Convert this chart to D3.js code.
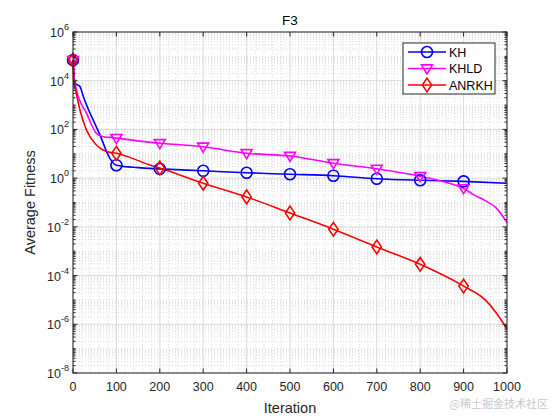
<!DOCTYPE html>
<html>
<head>
<meta charset="utf-8">
<script src="https://cdn.jsdelivr.net/npm/d3@7"></script>
<style>
  body { margin: 0; background: #fff; }
  svg { font-family: "Liberation Sans", Arial, sans-serif; }
</style>
</head>
<body>
<div id="chart"></div>
<script>
// data
const khIter = [0, 5, 16, 24, 62, 85, 100, 150, 200, 300, 400, 500, 600, 700, 800, 900, 1000];
const khVal = [7e4, 7.8e3, 5.8e3, 2.2e3, 60, 6.5, 3.4, 2.7, 2.4, 2.0, 1.66, 1.45, 1.26, 0.95, 0.82, 0.74, 0.62];

const khldIter = [0, 3, 8, 31, 54, 70, 85, 100, 150, 200, 300, 400, 500, 600, 700, 800, 850, 900, 925, 950, 975, 1000];
const khldVal = [7e4, 1.2e4, 4.2e3, 470, 69, 50, 47, 44, 34, 27, 19.5, 10.5, 8.1, 4.1, 2.4, 1.2, 0.75, 0.38, 0.2, 0.12, 0.06, 0.015];

const anrkhIter = [0, 2, 5, 16, 31, 54, 77, 100, 177, 200, 300, 400, 500, 600, 700, 800, 900, 950, 975, 1000];
const anrkhVal = [7e4, 8e3, 4.9e3, 630, 95, 23, 12.3, 10.5, 3.5, 2.6, 0.62, 0.17, 0.037, 0.008, 0.0015, 2.9e-4, 3.7e-5, 1e-5, 3e-6, 6.5e-7];

const markerIter = [0, 100, 200, 300, 400, 500, 600, 700, 800, 900];
const xTicks = [0, 100, 200, 300, 400, 500, 600, 700, 800, 900, 1000];
const yExps = [-8, -6, -4, -2, 0, 2, 4, 6];
const seriesNames = ['KH', 'KHLD', 'ANRKH'];
const seriesColors = ['#0000ff', '#ff00ff', '#ff0000'];
const seriesShapes = ['circle', 'triangle', 'diamond'];

const W = 560, H = 420;
const pLeft = 73, pRight = 507, pTop = 32, pBottom = 373;

const svg = d3.select('#chart').append('svg')
  .attr('width', W).attr('height', H);

const x = d3.scaleLinear().domain([0, 1000]).range([pLeft, pRight]);
const y = d3.scaleLog().domain([1e-8, 1e6]).range([pBottom, pTop]);

// grid
const grid = svg.append('g');
const minorY = [];
for (let e = -8; e < 6; e++) {
  for (let m = 1; m <= 9; m++) {
    const v = m * Math.pow(10, e);
    if (m === 1 && e % 2 === 0) continue;
    minorY.push(v);
  }
}
grid.selectAll('.my').data(minorY).enter().append('line')
  .attr('x1', pLeft).attr('x2', pRight)
  .attr('y1', d => y(d)).attr('y2', d => y(d))
  .attr('stroke', '#d4d4d4').attr('stroke-width', 0.8)
  .attr('stroke-dasharray', '1,2');
const minorX = d3.range(20, 1000, 20).filter(v => v % 100 !== 0);
grid.selectAll('.mx').data(minorX).enter().append('line')
  .attr('y1', pTop).attr('y2', pBottom)
  .attr('x1', d => x(d)).attr('x2', d => x(d))
  .attr('stroke', '#d4d4d4').attr('stroke-width', 0.8)
  .attr('stroke-dasharray', '1,2');
grid.selectAll('.gy').data(yExps).enter().append('line')
  .attr('x1', pLeft).attr('x2', pRight)
  .attr('y1', d => y(Math.pow(10, d))).attr('y2', d => y(Math.pow(10, d)))
  .attr('stroke', '#dadada').attr('stroke-width', 1);
grid.selectAll('.gx').data(xTicks).enter().append('line')
  .attr('y1', pTop).attr('y2', pBottom)
  .attr('x1', d => x(d)).attr('x2', d => x(d))
  .attr('stroke', '#dadada').attr('stroke-width', 1);

// lines
const series = [
  { iter: khIter, val: khVal },
  { iter: khldIter, val: khldVal },
  { iter: anrkhIter, val: anrkhVal }
];
const line = d3.line().x(d => x(d[0])).y(d => y(d[1])).curve(d3.curveMonotoneX);

function shapePath(shape, s) {
  if (shape === 'circle') {
    return d3.symbol().type(d3.symbolCircle).size(Math.PI * s * s)();
  }
  if (shape === 'triangle') {
    const h = s * 1.1;
    return `M${-s},${-h * 0.6}L${s},${-h * 0.6}L0,${h * 0.9}Z`;
  }
  return `M0,${-s * 1.25}L${s * 0.85},0L0,${s * 1.25}L${-s * 0.85},0Z`;
}

function interpLog(iter, val, t) {
  for (let i = 0; i < iter.length - 1; i++) {
    if (t >= iter[i] && t <= iter[i + 1]) {
      const f = (t - iter[i]) / (iter[i + 1] - iter[i]);
      return Math.pow(10, Math.log10(val[i]) + f * (Math.log10(val[i + 1]) - Math.log10(val[i])));
    }
  }
  return val[val.length - 1];
}

series.forEach((s, i) => {
  const pts = s.iter.map((t, k) => [t, s.val[k]]);
  svg.append('path').datum(pts)
    .attr('d', line)
    .attr('fill', 'none')
    .attr('stroke', seriesColors[i])
    .attr('stroke-width', 1.6);
});

series.forEach((s, i) => {
  svg.selectAll('.mk' + i).data(markerIter).enter().append('path')
    .attr('d', shapePath(seriesShapes[i], 5.5))
    .attr('transform', d => `translate(${x(d)},${y(interpLog(s.iter, s.val, d))})`)
    .attr('fill', 'none')
    .attr('stroke', seriesColors[i])
    .attr('stroke-width', 1.6);
});

// axes box
const axisColor = '#262626';
svg.append('rect')
  .attr('x', pLeft).attr('y', pTop)
  .attr('width', pRight - pLeft).attr('height', pBottom - pTop)
  .attr('fill', 'none').attr('stroke', axisColor).attr('stroke-width', 1);

// ticks
const tk = svg.append('g').attr('stroke', axisColor).attr('stroke-width', 1);
xTicks.forEach(t => {
  tk.append('line').attr('x1', x(t)).attr('x2', x(t)).attr('y1', pBottom).attr('y2', pBottom - 4.5);
  tk.append('line').attr('x1', x(t)).attr('x2', x(t)).attr('y1', pTop).attr('y2', pTop + 4.5);
});
yExps.forEach(e => {
  const yy = y(Math.pow(10, e));
  tk.append('line').attr('x1', pLeft).attr('x2', pLeft + 4.5).attr('y1', yy).attr('y2', yy);
  tk.append('line').attr('x1', pRight).attr('x2', pRight - 4.5).attr('y1', yy).attr('y2', yy);
});
minorY.forEach(v => {
  const yy = y(v);
  tk.append('line').attr('x1', pLeft).attr('x2', pLeft + 2.5).attr('y1', yy).attr('y2', yy);
  tk.append('line').attr('x1', pRight).attr('x2', pRight - 2.5).attr('y1', yy).attr('y2', yy);
});

// tick labels
svg.selectAll('.xl').data(xTicks).enter().append('text')
  .attr('x', d => x(d)).attr('y', pBottom + 18)
  .attr('text-anchor', 'middle')
  .attr('font-size', 12.5).attr('fill', axisColor)
  .text(d => d);

const yl = svg.selectAll('.yl').data(yExps).enter().append('text')
  .attr('x', pLeft - 4).attr('y', d => y(Math.pow(10, d)) + 5)
  .attr('text-anchor', 'end')
  .attr('font-size', 12.5).attr('fill', axisColor);
yl.append('tspan').text('10');
yl.append('tspan').attr('dy', -7).attr('font-size', 9).text(d => d);

// title and labels
svg.append('text').attr('x', (pLeft + pRight) / 2).attr('y', 25)
  .attr('text-anchor', 'middle').attr('font-size', 13.5).attr('fill', '#000')
  .text('F3');
svg.append('text').attr('x', (pLeft + pRight) / 2).attr('y', 413)
  .attr('text-anchor', 'middle').attr('font-size', 14.5).attr('fill', axisColor)
  .text('Iteration');
svg.append('text')
  .attr('transform', `translate(35,${(pTop + pBottom) / 2}) rotate(-90)`)
  .attr('text-anchor', 'middle').attr('font-size', 14.5).attr('fill', axisColor)
  .text('Average Fitness');

// legend
const lg = svg.append('g');
lg.append('rect').attr('x', 403).attr('y', 43).attr('width', 92).attr('height', 51)
  .attr('fill', '#fff').attr('stroke', axisColor).attr('stroke-width', 1);
seriesNames.forEach((name, i) => {
  const ly = 52 + i * 16.5;
  lg.append('line').attr('x1', 408).attr('x2', 446).attr('y1', ly).attr('y2', ly)
    .attr('stroke', seriesColors[i]).attr('stroke-width', 1.6);
  lg.append('path').attr('d', shapePath(seriesShapes[i], 5.5))
    .attr('transform', `translate(427,${ly})`)
    .attr('fill', 'none').attr('stroke', seriesColors[i]).attr('stroke-width', 1.6);
  lg.append('text').attr('x', 449).attr('y', ly + 4.5)
    .attr('font-size', 12.5).attr('fill', '#000').text(name);
});

// watermark
svg.append('text').attr('x', 548).attr('y', 408)
  .attr('text-anchor', 'end').attr('font-size', 11)
  .attr('font-family', '"Noto Sans CJK SC", sans-serif')
  .attr('fill', '#c8c8c8').text('@稀土掘金技术社区');
</script>
</body>
</html>
